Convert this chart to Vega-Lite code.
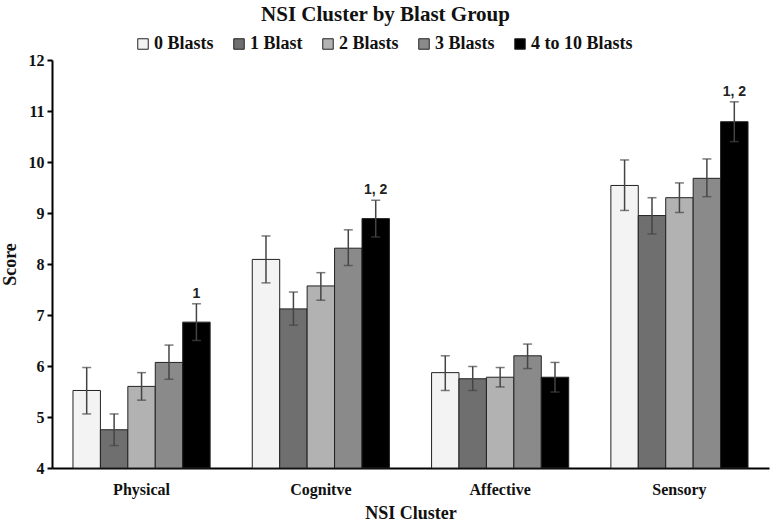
{
  "$schema": "https://vega.github.io/schema/vega-lite/v6.json",
  "autosize": "none",
  "width": 717,
  "height": 408,
  "padding": {"left": 52, "top": 60, "right": 2, "bottom": 55},
  "background": "white",
  "title": {
    "text": "NSI Cluster by Blast Group",
    "font": "Liberation Serif",
    "fontSize": 21,
    "fontWeight": "bold",
    "color": "#111",
    "anchor": "middle",
    "frame": "group",
    "dx": -25,
    "offset": 10
  },
  "data": {
    "values": [
      {"cluster": "Physical", "group": "0 Blasts", "score": 5.52, "lo": 5.06, "hi": 5.97, "note": ""},
      {"cluster": "Physical", "group": "1 Blast", "score": 4.75, "lo": 4.44, "hi": 5.06, "note": ""},
      {"cluster": "Physical", "group": "2 Blasts", "score": 5.60, "lo": 5.33, "hi": 5.87, "note": ""},
      {"cluster": "Physical", "group": "3 Blasts", "score": 6.07, "lo": 5.74, "hi": 6.41, "note": ""},
      {"cluster": "Physical", "group": "4 to 10 Blasts", "score": 6.86, "lo": 6.50, "hi": 7.22, "note": "1"},
      {"cluster": "Cognitve", "group": "0 Blasts", "score": 8.09, "lo": 7.63, "hi": 8.55, "note": ""},
      {"cluster": "Cognitve", "group": "1 Blast", "score": 7.12, "lo": 6.80, "hi": 7.45, "note": ""},
      {"cluster": "Cognitve", "group": "2 Blasts", "score": 7.57, "lo": 7.29, "hi": 7.83, "note": ""},
      {"cluster": "Cognitve", "group": "3 Blasts", "score": 8.31, "lo": 7.97, "hi": 8.67, "note": ""},
      {"cluster": "Cognitve", "group": "4 to 10 Blasts", "score": 8.89, "lo": 8.53, "hi": 9.25, "note": "1, 2"},
      {"cluster": "Affective", "group": "0 Blasts", "score": 5.87, "lo": 5.52, "hi": 6.20, "note": ""},
      {"cluster": "Affective", "group": "1 Blast", "score": 5.75, "lo": 5.52, "hi": 5.99, "note": ""},
      {"cluster": "Affective", "group": "2 Blasts", "score": 5.78, "lo": 5.59, "hi": 5.97, "note": ""},
      {"cluster": "Affective", "group": "3 Blasts", "score": 6.20, "lo": 5.95, "hi": 6.43, "note": ""},
      {"cluster": "Affective", "group": "4 to 10 Blasts", "score": 5.78, "lo": 5.49, "hi": 6.07, "note": ""},
      {"cluster": "Sensory", "group": "0 Blasts", "score": 9.54, "lo": 9.05, "hi": 10.04, "note": ""},
      {"cluster": "Sensory", "group": "1 Blast", "score": 8.95, "lo": 8.59, "hi": 9.30, "note": ""},
      {"cluster": "Sensory", "group": "2 Blasts", "score": 9.30, "lo": 9.01, "hi": 9.59, "note": ""},
      {"cluster": "Sensory", "group": "3 Blasts", "score": 9.68, "lo": 9.32, "hi": 10.06, "note": ""},
      {"cluster": "Sensory", "group": "4 to 10 Blasts", "score": 10.79, "lo": 10.40, "hi": 11.18, "note": "1, 2"}
    ]
  },
  "encoding": {
    "x": {
      "field": "cluster",
      "type": "nominal",
      "sort": ["Physical", "Cognitve", "Affective", "Sensory"],
      "scale": {"paddingInner": 0.235, "paddingOuter": 0.117},
      "axis": {
        "title": "NSI Cluster",
        "titleFont": "Liberation Serif",
        "titleFontSize": 18,
        "titleFontWeight": "bold",
        "titleColor": "#111",
        "titlePadding": 7,
        "labelFont": "Liberation Serif",
        "labelFontSize": 16,
        "labelFontWeight": "bold",
        "labelColor": "#111",
        "labelAngle": 0,
        "labelPadding": 13,
        "ticks": false,
        "domainColor": "#000",
        "domainWidth": 2
      }
    },
    "xOffset": {
      "field": "group",
      "type": "nominal",
      "sort": ["0 Blasts", "1 Blast", "2 Blasts", "3 Blasts", "4 to 10 Blasts"],
      "scale": {"paddingInner": 0, "paddingOuter": 0}
    }
  },
  "layer": [
    {
      "mark": {"type": "bar", "stroke": "#222", "strokeWidth": 1},
      "encoding": {
        "y": {
          "field": "score",
          "type": "quantitative",
          "scale": {"domain": [4, 12], "nice": false, "zero": false},
          "axis": {
            "title": "Score",
            "titleFont": "Liberation Serif",
            "titleFontSize": 18,
            "titleFontWeight": "bold",
            "titleColor": "#111",
            "titlePadding": 9,
            "labelFont": "Liberation Serif",
            "labelFontSize": 16,
            "labelFontWeight": "bold",
            "labelColor": "#111",
            "labelPadding": 3,
            "values": [4, 5, 6, 7, 8, 9, 10, 11, 12],
            "grid": false,
            "tickColor": "#000",
            "tickSize": 5,
            "tickWidth": 2,
            "domainColor": "#000",
            "domainWidth": 2
          }
        },
        "y2": {"datum": 4},
        "color": {
          "field": "group",
          "type": "nominal",
          "sort": ["0 Blasts", "1 Blast", "2 Blasts", "3 Blasts", "4 to 10 Blasts"],
          "scale": {
            "domain": ["0 Blasts", "1 Blast", "2 Blasts", "3 Blasts", "4 to 10 Blasts"],
            "range": ["#f3f3f3", "#6f6f6f", "#b2b2b2", "#8a8a8a", "#000000"]
          },
          "legend": {
            "title": null,
            "orient": "none",
            "direction": "horizontal",
            "legendX": 82,
            "legendY": -25,
            "symbolType": "square",
            "symbolSize": 110,
            "symbolStrokeColor": "#222",
            "symbolStrokeWidth": 1,
            "symbolOpacity": 1,
            "labelFont": "Liberation Serif",
            "labelFontSize": 18,
            "labelFontWeight": "bold",
            "labelColor": "#111",
            "labelOffset": 2,
            "columnPadding": 16
          }
        }
      }
    },
    {
      "mark": {"type": "rule", "color": "#444", "strokeWidth": 1.5},
      "encoding": {
        "y": {"field": "lo", "type": "quantitative"},
        "y2": {"field": "hi"}
      }
    },
    {
      "mark": {"type": "tick", "color": "#444", "thickness": 1.5, "size": 9},
      "encoding": {"y": {"field": "lo", "type": "quantitative"}}
    },
    {
      "mark": {"type": "tick", "color": "#444", "thickness": 1.5, "size": 9},
      "encoding": {"y": {"field": "hi", "type": "quantitative"}}
    },
    {
      "mark": {"type": "text", "font": "Liberation Sans", "fontSize": 14, "fontWeight": "bold", "color": "#222", "baseline": "bottom", "dy": -3},
      "encoding": {
        "y": {"field": "hi", "type": "quantitative"},
        "text": {"field": "note"}
      }
    }
  ],
  "config": {
    "view": {"stroke": null}
  }
}
